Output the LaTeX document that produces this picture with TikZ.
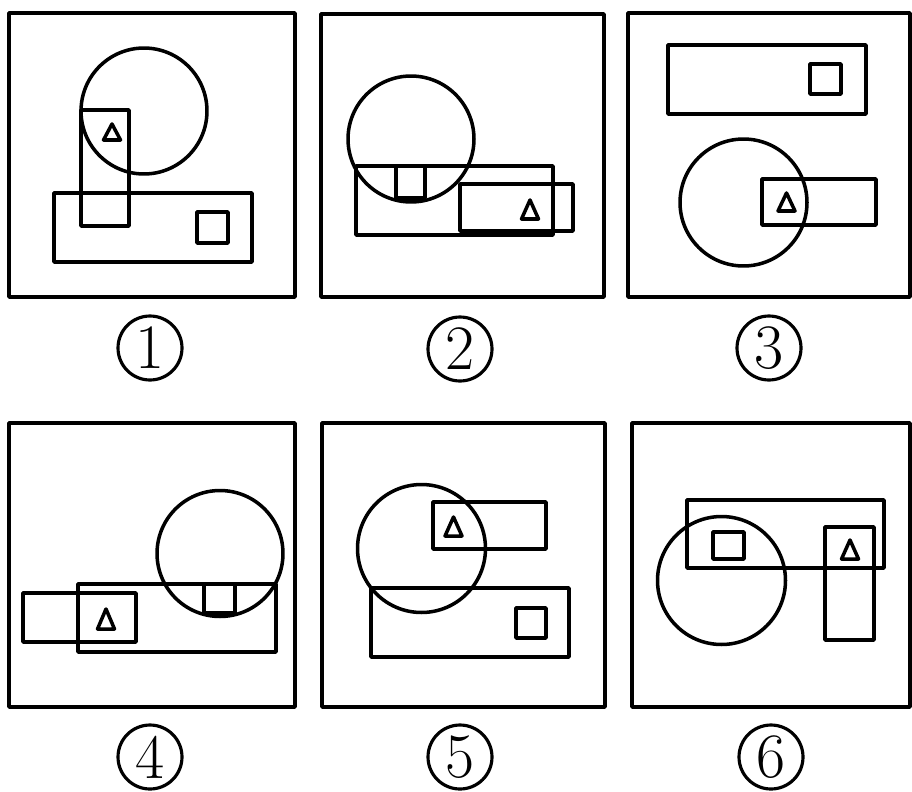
\documentclass[tikz,border=0pt]{standalone}
\begin{document}
\begin{tikzpicture}[x=0.02cm,y=-0.02cm,line width=2pt,line join=round,
  lbl/.style={circle,draw,line width=1.8pt,minimum size=1.28cm,inner sep=0pt,font=\fontsize{36}{36}\selectfont}]
\useasboundingbox (0,0) rectangle (912,791);
\newcommand\mytri[3]{\draw (#1,#2) -- ({#1-8.5},#3) -- ({#1+8.5},#3) -- cycle;}
% panel 1
\draw (9,13) rectangle (295,297);
\draw (144,111) circle[radius=1.26cm];
\draw (81,110) rectangle (129,226);
\draw (54,193) rectangle (252,262);
\draw (197,212) rectangle (228,243);
\mytri{112}{124}{140}
% panel 2
\draw (321,14) rectangle (604,297);
\draw (411,139) circle[radius=1.26cm];
\draw (356,166) rectangle (553,235);
\draw (460,184) rectangle (573,231);
\draw (396,166) rectangle (425,198);
\mytri{530}{200}{219}
% panel 3
\draw (628,13) rectangle (910,297);
\draw (668,45) rectangle (866,114);
\draw (810,64) rectangle (841,94);
\draw (743.5,202.5) circle[radius=1.27cm];
\draw (762,179) rectangle (876,225);
\mytri{786.5}{193}{211}
% panel 4
\draw (9,423) rectangle (295,707);
\draw (220,553.5) circle[radius=1.26cm];
\draw (78,584) rectangle (276,652);
\draw (23,593) rectangle (136,642);
\draw (204,584) rectangle (235,613);
\mytri{106}{609}{629}
% panel 5
\draw (322,423) rectangle (605,707);
\draw (421.5,548.5) circle[radius=1.28cm];
\draw (433,502) rectangle (546,549);
\mytri{453.5}{517}{536}
\draw (371,588) rectangle (569,657);
\draw (516,608) rectangle (546,638);
% panel 6
\draw (632,423) rectangle (910,707);
\draw (687,500) rectangle (884,568);
\draw (721.5,580.5) circle[radius=1.28cm];
\draw (713,532) rectangle (744,559);
\draw (825,527) rectangle (874,640);
\mytri{850}{540}{559}
% labels
\node[lbl] (l1) at (150,348) {1};
\node[lbl] (l2) at (460,349) {2};
\node[lbl] (l3) at (769,348) {3};
\node[lbl] (l4) at (150,757) {4};
\node[lbl] (l5) at (460,757) {5};
\node[lbl] (l6) at (771,757) {6};
\end{tikzpicture}
\end{document}
